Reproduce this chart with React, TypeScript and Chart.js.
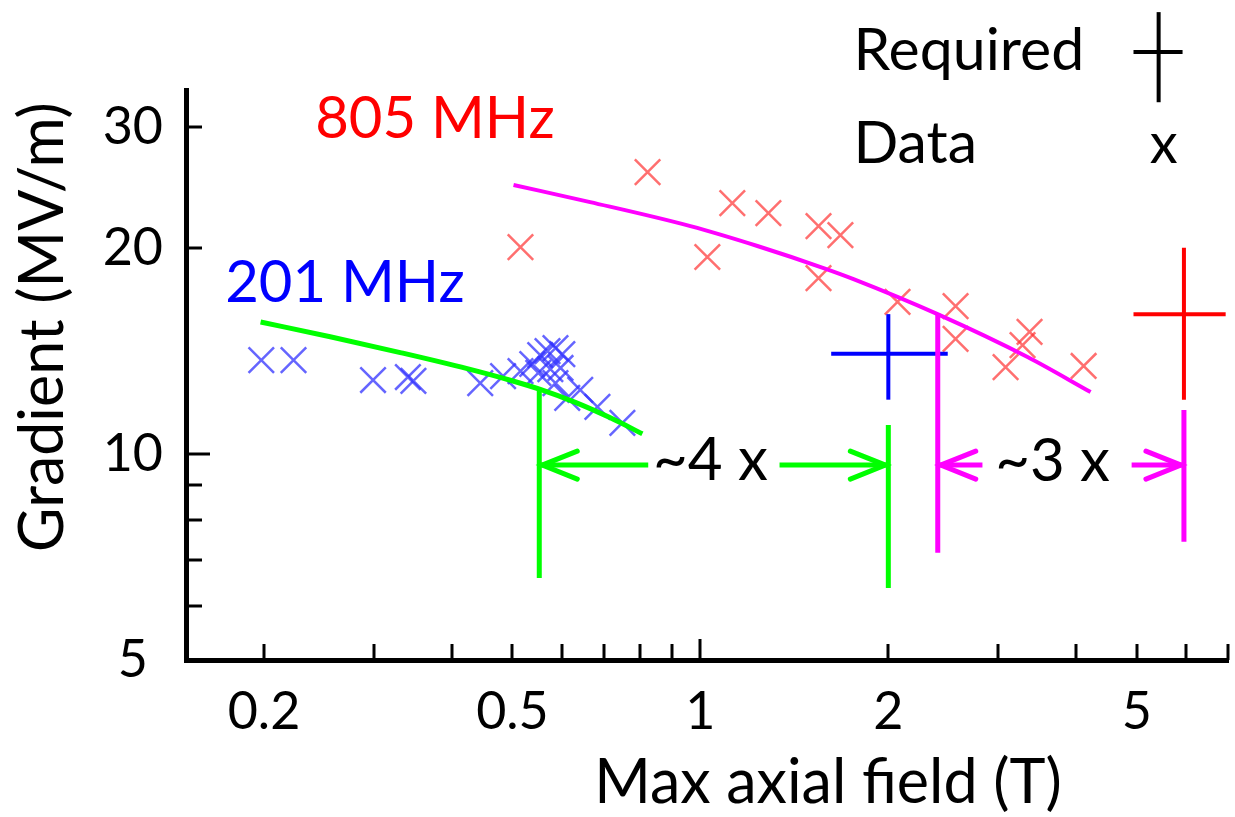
import React, { useEffect, useRef } from "react";
import { Chart, registerables } from "chart.js";

Chart.register(...registerables);

const FONT = "Lato, 'Open Sans', sans-serif";

// ---- axes ----
const xRange = [0.15, 7];
const yRange = [5, 34];
const xTickLabels = [0.2, 0.5, 1, 2, 5];
const xTickMarks = [0.2, 0.3, 0.4, 0.5, 0.6, 0.7, 0.8, 0.9, 1, 2, 3, 4, 5, 6, 7];
const yTickLabels = [5, 10, 20, 30];
const yTickMarks = [6, 7, 8, 9, 10, 20, 30];

// ---- 201 MHz measured data ----
const blueX = [0.198, 0.223, 0.299, 0.340, 0.347, 0.444, 0.483, 0.515, 0.538, 0.554, 0.569, 0.586, 0.601, 0.550, 0.575, 0.597, 0.586, 0.612, 0.642, 0.684, 0.750];
const blueY = [13.71, 13.71, 12.82, 12.95, 12.78, 12.69, 12.99, 13.21, 13.53, 13.94, 14.13, 14.27, 13.99, 13.13, 13.30, 13.35, 12.69, 12.07, 12.40, 11.71, 11.10];

// ---- 805 MHz measured data ----
const redX = [0.515, 0.823, 1.026, 1.125, 1.285, 1.546, 1.676, 1.546, 2.069, 2.563, 2.563, 3.082, 3.281, 3.367, 4.110];
const redY = [20.05, 25.79, 19.39, 23.24, 22.47, 21.51, 20.87, 18.06, 16.67, 16.44, 14.72, 13.39, 14.42, 15.07, 13.44];

// ---- fit curves ----
const greenFitX = [0.1975, 0.2553, 0.3306, 0.4232, 0.496, 0.554, 0.6305, 0.7174, 0.8074];
const greenFitY = [15.58, 14.83, 14.06, 13.32, 12.81, 12.42, 11.89, 11.29, 10.7];
const magentaFitX = [0.502, 0.666, 0.964, 1.234, 1.575, 1.759, 2.398, 3.342, 4.217];
const magentaFitY = [24.7, 23.32, 21.51, 20.12, 18.68, 18.0, 16.0, 13.85, 12.31];

// ---- required operating points (201 MHz, 805 MHz) ----
const reqField = [2.0, 5.95];
const reqFieldLow = [1.62, 4.94];
const reqFieldHigh = [2.49, 6.94];
const reqGrad = [14, 16];
const reqGradLow = [12, 12];
const reqGradHigh = [16, 20];
const reqColors = ["#0000ff", "#ff0000"];

// ---- vertical marker lines ----
const markerX = [0.552, 2.0, 2.4, 5.95];
const markerTop = [12.42, 11.02, 16.06, 11.59];
const markerBottom = [6.59, 6.37, 7.17, 7.44];
const markerColors = ["#00ff00", "#00ff00", "#ff00ff", "#ff00ff"];

// ---- arrows ----
const arrowFrom = [0.825, 1.339, 2.83, 4.906];
const arrowTo = [0.552, 2.0, 2.4, 5.95];
const arrowY = [9.63, 9.63, 9.63, 9.63];
const arrowColors = ["#00ff00", "#00ff00", "#ff00ff", "#ff00ff"];

// ---- text annotations (anchor in data coordinates) ----
const noteText = ["805 MHz", "201 MHz", "~4 x", "~3 x", "Required", "Data", "x"];
const noteX = [0.2415, 0.1733, 1.0376, 3.665, 1.759, 1.759, 5.521];
const noteY = [28.93, 16.66, 9.16, 9.13, 36.34, 26.59, 26.59];
const noteAlign = ["left", "left", "center", "center", "left", "left", "center"];
const noteColors = ["#ff0000", "#0000ff", "#000000", "#000000", "#000000", "#000000", "#000000"];
const noteSizes = [58, 58, 60, 60, 59, 59, 56];

// ---- legend "Required" symbol ----
const legendCrossX = [5.42, 4.94, 5.92];
const legendCrossY = [32.63, 44.18, 38.62];

const xTitle = "Max axial field (T)";
const yTitle = "Gradient (MV/m)";

const pts = (xs: number[], ys: number[]) => xs.map((x, i) => ({ x, y: ys[i] }));

const decorPlugin = {
  id: "decor",
  afterDraw(chart: any) {
    const { ctx, chartArea } = chart;
    const x = chart.scales.x;
    const y = chart.scales.y;
    ctx.save();
    // inward tick marks
    ctx.strokeStyle = "#000";
    ctx.lineWidth = 3;
    for (const v of xTickMarks) {
      const px = Math.round(x.getPixelForValue(v));
      const len = v === 1 ? 21 : 16;
      ctx.beginPath();
      ctx.moveTo(px, chartArea.bottom);
      ctx.lineTo(px, chartArea.bottom - len);
      ctx.stroke();
    }
    for (const v of yTickMarks) {
      const py = Math.round(y.getPixelForValue(v));
      const len = v === 10 ? 24 : 16;
      ctx.beginPath();
      ctx.moveTo(chartArea.left, py);
      ctx.lineTo(chartArea.left + len, py);
      ctx.stroke();
    }
    // arrowheads
    ctx.lineWidth = 5;
    ctx.lineCap = "round";
    arrowTo.forEach((v, i) => {
      const tx = x.getPixelForValue(v);
      const ty = y.getPixelForValue(arrowY[i]);
      const dir = arrowFrom[i] < v ? 1 : -1;
      ctx.strokeStyle = arrowColors[i];
      ctx.beginPath();
      ctx.moveTo(tx - dir * 38, ty - 14);
      ctx.lineTo(tx - dir * 3, ty);
      ctx.lineTo(tx - dir * 38, ty + 14);
      ctx.stroke();
    });
    // annotations
    ctx.textBaseline = "alphabetic";
    noteText.forEach((t, i) => {
      ctx.font = `${noteSizes[i]}px ${FONT}`;
      ctx.fillStyle = noteColors[i];
      ctx.textAlign = noteAlign[i] as CanvasTextAlign;
      ctx.fillText(t, x.getPixelForValue(noteX[i]), y.getPixelForValue(noteY[i]));
    });
    // axis titles
    ctx.font = `61px ${FONT}`;
    ctx.fillStyle = "#000";
    ctx.textAlign = "center";
    ctx.fillText(xTitle, chartArea.left + 642, chartArea.bottom + 143);
    ctx.translate(63, chartArea.top + 237);
    ctx.rotate(-Math.PI / 2);
    ctx.fillText(yTitle, 0, 0);
    ctx.restore();
  },
};

export default function App() {
  const ref = useRef<HTMLCanvasElement | null>(null);
  useEffect(() => {
    if (!ref.current) return;
    const lineDs = (data: any[], color: string, width: number, extra: any = {}) => ({
      type: "line",
      data,
      borderColor: color,
      backgroundColor: color,
      borderWidth: width,
      pointRadius: 0,
      showLine: true,
      fill: false,
      ...extra,
    });
    const datasets: any[] = [];
    // legend symbol
    datasets.push(lineDs([{ x: legendCrossX[0], y: legendCrossY[0] }, { x: legendCrossX[0], y: legendCrossY[1] }], "#000", 4, { clip: false }));
    datasets.push(lineDs([{ x: legendCrossX[1], y: legendCrossY[2] }, { x: legendCrossX[2], y: legendCrossY[2] }], "#000", 4, { clip: false }));
    // fits
    datasets.push(lineDs(pts(greenFitX, greenFitY), "#00ff00", 5, { cubicInterpolationMode: "monotone" }));
    datasets.push(lineDs(pts(magentaFitX, magentaFitY), "#ff00ff", 4, { cubicInterpolationMode: "monotone" }));
    // markers
    markerX.forEach((v, i) => {
      datasets.push(lineDs([{ x: v, y: markerTop[i] }, { x: v, y: markerBottom[i] }], markerColors[i], 5));
    });
    // arrows shafts
    arrowTo.forEach((v, i) => {
      datasets.push(lineDs([{ x: arrowFrom[i], y: arrowY[i] }, { x: v, y: arrowY[i] }], arrowColors[i], 5));
    });
    // required crosses
    reqField.forEach((v, i) => {
      datasets.push(lineDs([{ x: reqFieldLow[i], y: reqGrad[i] }, { x: reqFieldHigh[i], y: reqGrad[i] }], reqColors[i], 4, { clip: false }));
      datasets.push(lineDs([{ x: v, y: reqGradLow[i] }, { x: v, y: reqGradHigh[i] }], reqColors[i], 4, { clip: false }));
    });
    // data
    datasets.push({
      type: "scatter",
      data: pts(blueX, blueY),
      pointStyle: "crossRot",
      pointRadius: 18,
      borderWidth: 2.5,
      borderColor: "rgba(50,50,255,0.75)",
      backgroundColor: "rgba(50,50,255,0.75)",
    });
    datasets.push({
      type: "scatter",
      data: pts(redX, redY),
      pointStyle: "crossRot",
      pointRadius: 18,
      borderWidth: 2.5,
      borderColor: "rgba(255,50,50,0.7)",
      backgroundColor: "rgba(255,50,50,0.7)",
    });

    const chart = new Chart(ref.current, {
      type: "scatter",
      data: { datasets },
      options: {
        animation: false,
        responsive: false,
        devicePixelRatio: 1,
        events: [],
        layout: { autoPadding: false, padding: { top: 90, right: 7, left: 0, bottom: 0 } },
        plugins: { legend: { display: false }, tooltip: { enabled: false } },
        scales: {
          x: {
            type: "logarithmic",
            position: "bottom",
            min: xRange[0],
            max: xRange[1],
            grid: { display: false, drawTicks: false, tickLength: 0 },
            border: { display: true, color: "#000", width: 5 },
            afterBuildTicks: (s: any) => {
              s.ticks = xTickLabels.map((v) => ({ value: v }));
            },
            afterFit: (s: any) => {
              s.height = 157;
              s.paddingLeft = 0;
              s.paddingRight = 0;
            },
            ticks: {
              autoSkip: false,
              maxRotation: 0,
              padding: 21,
              color: "#000",
              font: { family: FONT, size: 52 },
              callback: (v: any) => String(v),
            },
          },
          y: {
            type: "logarithmic",
            position: "left",
            min: yRange[0],
            max: yRange[1],
            grid: { display: false, drawTicks: false, tickLength: 0 },
            border: { display: true, color: "#000", width: 5 },
            afterBuildTicks: (s: any) => {
              s.ticks = yTickLabels.map((v) => ({ value: v }));
            },
            afterFit: (s: any) => {
              s.width = 186;
              s.paddingTop = 0;
              s.paddingBottom = 0;
            },
            ticks: {
              autoSkip: false,
              crossAlign: "center",
              padding: 23,
              color: "#000",
              font: { family: FONT, size: 52 },
              callback: (v: any) => String(v),
            },
          },
        },
      },
      plugins: [decorPlugin],
    } as any);
    return () => chart.destroy();
  }, []);

  return (
    <div style={{ position: "fixed", left: 0, top: 0, width: 1235, height: 817, background: "#fff" }}>
      <canvas ref={ref} width={1235} height={817} style={{ width: 1235, height: 817 }} />
    </div>
  );
}
